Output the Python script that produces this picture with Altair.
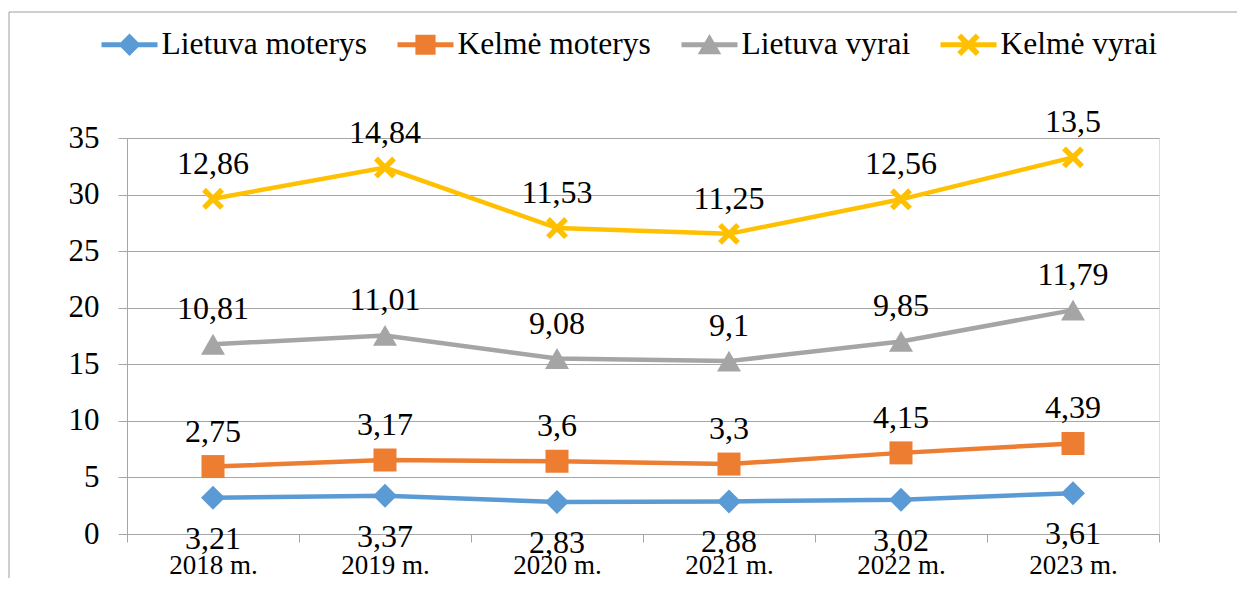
import altair as alt
import pandas as pd

years = ["2018 m.", "2019 m.", "2020 m.", "2021 m.", "2022 m.", "2023 m."]
series = ["Lietuva moterys", "Kelmė moterys", "Lietuva vyrai", "Kelmė vyrai"]
lietuva_moterys = [3.21, 3.37, 2.83, 2.88, 3.02, 3.61]
kelme_moterys = [2.75, 3.17, 3.6, 3.3, 4.15, 4.39]
lietuva_vyrai = [10.81, 11.01, 9.08, 9.1, 9.85, 11.79]
kelme_vyrai = [12.86, 14.84, 11.53, 11.25, 12.56, 13.5]
colors = ["#5B9BD5", "#ED7D31", "#A5A5A5", "#FFC000"]
y_ticks = [0, 5, 10, 15, 20, 25, 30, 35]

FONT = "'Liberation Serif', 'Times New Roman', Times, serif"
GRID = "#a6a6a6"

rows = []
for i, yr in enumerate(years):
    cum = 0.0
    for s, vals in zip(series, [lietuva_moterys, kelme_moterys, lietuva_vyrai, kelme_vyrai]):
        v = vals[i]
        cum += v
        rows.append(dict(year=yr, series=s, value=v, cum=round(cum, 2),
                         label=f"{v:g}".replace(".", ",")))
df = pd.DataFrame(rows)

x_enc = alt.X("year:N", sort=years, title=None,
              scale=alt.Scale(type="band", paddingInner=0, paddingOuter=0),
              axis=alt.Axis(tickBand="extent", tickSize=8, labelAngle=0,
                            labelFont=FONT, labelFontSize=27, labelColor="black",
                            labelPadding=10, domainColor=GRID, tickColor=GRID,
                            grid=False))
y_enc = alt.Y("cum:Q", title=None,
              scale=alt.Scale(domain=[0, 35], nice=False, zero=True),
              axis=alt.Axis(values=y_ticks, tickSize=9, labelFont=FONT,
                            labelFontSize=31, labelColor="black", labelPadding=19,
                            domainColor=GRID, tickColor=GRID, grid=True,
                            gridColor=GRID, gridWidth=1.2))
color_nolegend = alt.Color("series:N", scale=alt.Scale(domain=series, range=colors), legend=None)

base = alt.Chart(df)

lines = base.mark_line(strokeWidth=4.5).encode(x=x_enc, y=y_enc, color=color_nolegend,
                                                detail="series:N")

X_PATH = "M-0.65,-1L1,0.65L0.65,1L-1,-0.65Z M0.65,-1L1,-0.65L-0.65,1L-1,0.65Z"
marker_shapes = ["diamond", "square", "triangle-up", X_PATH]
marker_sizes = [576, 529, 576, 480]
point_layers = []
for s, shp, sz in zip(series, marker_shapes, marker_sizes):
    point_layers.append(
        base.transform_filter(alt.datum.series == s)
        .mark_point(filled=True, shape=shp, size=sz, opacity=1, strokeWidth=0)
        .encode(x=x_enc, y=y_enc, color=color_nolegend)
    )

LINE = "M-1,-0.09H1V0.09H-1Z "
legend_paths = [
    LINE + "M0,-0.4L0.4,0L0,0.4L-0.4,0Z",
    LINE + "M-0.36,-0.36H0.36V0.36H-0.36Z",
    LINE + "M0,-0.38L0.42,0.34H-0.42Z",
    LINE + "M-0.26,-0.4L0.4,0.26L0.26,0.4L-0.4,-0.26Z M0.26,-0.4L0.4,-0.26L-0.26,0.4L-0.4,0.26Z",
]
leg = alt.Legend(orient="none", legendX=-25.5, legendY=-121.5, direction="horizontal",
                 title=None, symbolSize=3136, labelFont=FONT, labelFontSize=31.5,
                 labelColor="black", labelOffset=4, columnPadding=30, padding=0,
                 symbolStrokeWidth=0, labelLimit=500, symbolOpacity=1)

legend_layer = (
    base.transform_calculate(hidden="datum.cum + 1000")
    .mark_point(filled=True, clip=True, strokeWidth=0)
    .encode(x=x_enc,
            y=alt.Y("hidden:Q", scale=alt.Scale(domain=[0, 35], nice=False, zero=True)),
            color=alt.Color("series:N", scale=alt.Scale(domain=series, range=colors), legend=leg),
            shape=alt.Shape("series:N", scale=alt.Scale(domain=series, range=legend_paths), legend=leg))
)

labels_above = (
    base.transform_filter(alt.datum.series != "Lietuva moterys")
    .mark_text(font=FONT, fontSize=32, dy=-35, baseline="middle", color="black")
    .encode(x=x_enc, y=y_enc, text="label:N")
)
labels_below = (
    base.transform_filter(alt.datum.series == "Lietuva moterys")
    .mark_text(font=FONT, fontSize=32, dy=41, baseline="middle", color="black")
    .encode(x=x_enc, y=y_enc, text="label:N")
)

frame = pd.DataFrame({"a": [0]})
border_top = alt.Chart(frame).mark_rule(stroke="#9e9e9e", strokeWidth=1).encode(
    x=alt.value(-118), x2=alt.value(1110), y=alt.value(-126))
border_left = alt.Chart(frame).mark_rule(stroke="#9e9e9e", strokeWidth=1).encode(
    x=alt.value(-118), y=alt.value(-126), y2=alt.value(440))

chart = alt.layer(
    border_top, border_left, legend_layer, lines, *point_layers, labels_above, labels_below
).properties(
    width=1032, height=396,
    padding={"left": 0, "top": 3, "right": 0, "bottom": 0},
).configure_view(stroke=None).configure(background="white")

chart.save("out.html", embed_options={"renderer": "svg", "actions": False})
